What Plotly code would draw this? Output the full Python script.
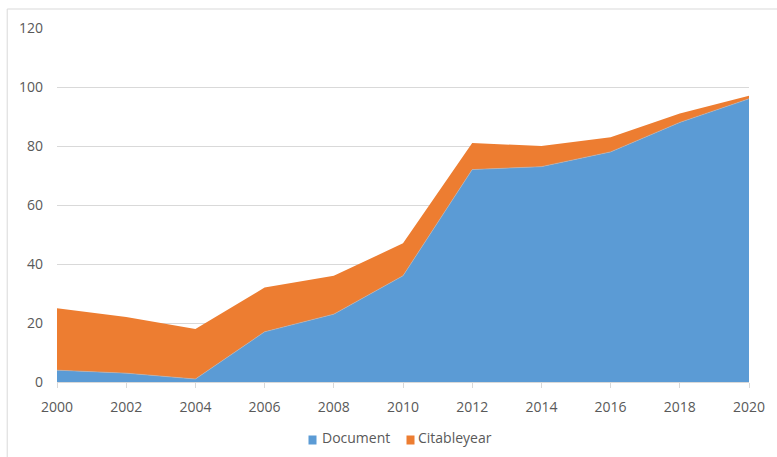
import plotly.graph_objects as go

years = [2000, 2002, 2004, 2006, 2008, 2010, 2012, 2014, 2016, 2018, 2020]
document = [4, 3, 1, 17, 23, 36, 72, 73, 78, 88, 96]
citableyear = [21, 19, 17, 15, 13, 11, 9, 7, 5, 3, 1]
x_ticks = years
y_ticks = [0, 20, 40, 60, 80, 100, 120]
series_names = ["Document", "Citableyear"]

BLUE = "#5B9BD5"
ORANGE = "#ED7D31"
GRAY_TXT = "#595959"
GRID = "#d9d9d9"
FONT = "Open Sans"

fig = go.Figure()
fig.add_trace(go.Scatter(x=years, y=document, name=series_names[0], stackgroup="one",
                         mode="lines", line=dict(width=0.6, color="#a9b7c6"),
                         fillcolor=BLUE, showlegend=False))
fig.add_trace(go.Scatter(x=years, y=citableyear, name=series_names[1], stackgroup="one",
                         mode="lines", line=dict(width=0, color=ORANGE),
                         fillcolor=ORANGE, showlegend=False))

L, R, T, B = 57, 25, 28, 75
W, H = 777, 457
pw, ph = W - L - R, H - T - B


def px(x):
    return (x - L) / pw


def py(y):
    return (H - B - y) / ph


# legend drawn as annotations (small Excel-style squares)
annotations = []
legend_items = [(series_names[0], BLUE, 309.5, 321), (series_names[1], ORANGE, 407.5, 417.5)]
for name, col, sq_x, tx_x in legend_items:
    annotations.append(dict(xref="paper", yref="paper", x=px(sq_x), y=py(439.5),
                            xanchor="left", yanchor="middle", text=" ", showarrow=False,
                            bgcolor=col, width=7, height=8, borderpad=0,
                            font=dict(size=4)))
    annotations.append(dict(xref="paper", yref="paper", x=px(tx_x), y=py(437.5),
                            xanchor="left", yanchor="middle", text=name, showarrow=False,
                            font=dict(size=14, color=GRAY_TXT, family=FONT)))

fig.update_layout(
    width=W, height=H,
    margin=dict(l=L, r=R, t=T, b=B),
    paper_bgcolor="white", plot_bgcolor="white",
    font=dict(family=FONT, size=14, color=GRAY_TXT),
    showlegend=False,
    xaxis=dict(range=[2000, 2020], tickvals=x_ticks, ticktext=[str(v) for v in x_ticks],
               showgrid=False, zeroline=False, showline=True, linecolor=GRID, linewidth=1,
               ticks="outside", ticklen=5, tickcolor=GRID, ticklabelstandoff=7,
               tickfont=dict(size=14, color=GRAY_TXT)),
    yaxis=dict(range=[0, 120], tickvals=y_ticks, showgrid=True, gridcolor=GRID, gridwidth=1,
               zeroline=False, showline=False, ticks="", ticklabelstandoff=13,
               tickfont=dict(size=14, color=GRAY_TXT)),
    annotations=annotations,
    shapes=[
        dict(type="line", xref="paper", yref="paper", x0=px(7), x1=px(W + 5),
             y0=py(9), y1=py(9), line=dict(color=GRID, width=1), layer="below"),
        dict(type="line", xref="paper", yref="paper", x0=px(7), x1=px(7),
             y0=py(9), y1=py(H + 5), line=dict(color=GRID, width=1), layer="below"),
    ],
)

fig.write_html("out.html")
